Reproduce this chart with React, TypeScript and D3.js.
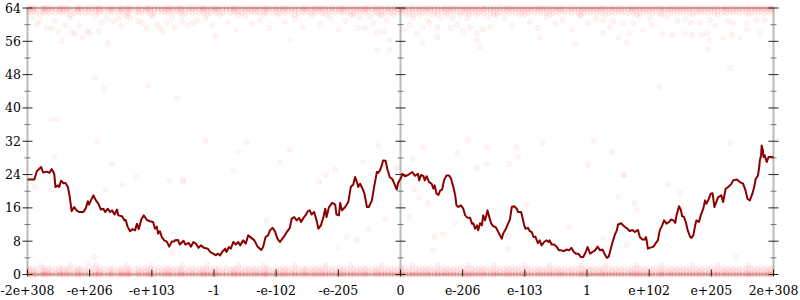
import React from "react";
import * as d3 from "d3";

const xTickPositions = [-6, -5, -4, -3, -2, -1, 0, 1, 2, 3, 4, 5, 6];
const xTickLabels = ["-2e+308", "-e+206", "-e+103", "-1", "-e-102", "-e-205", "0", "e-206", "e-103", "1", "e+102", "e+205", "2e+308"];
const yMajorTicks = [0, 8, 16, 24, 32, 40, 48, 56, 64];
const yMinorTicks = [4, 12, 20, 28, 36, 44, 52, 60];

const lineX = [
  -6.0, -5.89, -5.85, -5.78, -5.75, -5.69, -5.65, -5.61, -5.57, -5.55, -5.51, -5.49, -5.46, -5.42, -5.39, -5.35, -5.32, -5.29, -5.25, -5.21,
  -5.17, -5.1, -5.06, -5.03, -5.01, -4.98, -4.94, -4.9, -4.86, -4.82, -4.78, -4.75, -4.71, -4.67, -4.64, -4.6, -4.56, -4.54, -4.48, -4.44,
  -4.42, -4.39, -4.35, -4.31, -4.27, -4.24, -4.21, -4.17, -4.13, -4.08, -4.03, -3.98, -3.95, -3.92, -3.9, -3.87, -3.84, -3.8, -3.76, -3.72,
  -3.68, -3.64, -3.63, -3.58, -3.55, -3.49, -3.46, -3.41, -3.37, -3.33, -3.29, -3.25, -3.21, -3.16, -3.1, -3.06, -3.01, -2.97, -2.94, -2.9,
  -2.87, -2.82, -2.8, -2.76, -2.73, -2.69, -2.65, -2.61, -2.58, -2.53, -2.49, -2.45, -2.4, -2.35, -2.3, -2.24, -2.21, -2.17, -2.13, -2.1,
  -2.06, -2.02, -1.98, -1.94, -1.9, -1.86, -1.83, -1.78, -1.75, -1.71, -1.67, -1.63, -1.6, -1.56, -1.52, -1.49, -1.46, -1.43, -1.39, -1.35,
  -1.32, -1.28, -1.24, -1.21, -1.19, -1.15, -1.1, -1.05, -1.03, -0.99, -0.97, -0.94, -0.89, -0.84, -0.8, -0.76, -0.73, -0.7, -0.68, -0.65,
  -0.61, -0.58, -0.54, -0.51, -0.46, -0.42, -0.38, -0.36, -0.33, -0.3, -0.28, -0.24, -0.21, -0.17, -0.13, -0.1, -0.06, -0.04, 0.01, 0.03,
  0.07, 0.12, 0.15, 0.19, 0.23, 0.28, 0.3, 0.33, 0.37, 0.39, 0.42, 0.46, 0.5, 0.53, 0.55, 0.58, 0.61, 0.64, 0.67, 0.7,
  0.74, 0.78, 0.81, 0.85, 0.88, 0.9, 0.93, 0.97, 1.01, 1.04, 1.08, 1.12, 1.15, 1.17, 1.2, 1.23, 1.25, 1.28, 1.31, 1.33,
  1.36, 1.4, 1.42, 1.46, 1.49, 1.53, 1.56, 1.6, 1.63, 1.65, 1.69, 1.73, 1.76, 1.79, 1.83, 1.87, 1.89, 1.94, 1.96, 1.99,
  2.01, 2.05, 2.08, 2.11, 2.14, 2.17, 2.21, 2.24, 2.27, 2.31, 2.35, 2.38, 2.4, 2.43, 2.47, 2.51, 2.55, 2.59, 2.63, 2.67,
  2.71, 2.75, 2.78, 2.82, 2.86, 2.9, 2.94, 2.98, 3.01, 3.05, 3.09, 3.13, 3.17, 3.21, 3.25, 3.28, 3.32, 3.35, 3.39, 3.42,
  3.45, 3.48, 3.5, 3.55, 3.58, 3.61, 3.65, 3.69, 3.73, 3.77, 3.82, 3.85, 3.89, 3.93, 3.95, 3.98, 4.01, 4.07, 4.1, 4.14,
  4.17, 4.21, 4.24, 4.28, 4.32, 4.35, 4.39, 4.42, 4.44, 4.48, 4.51, 4.53, 4.56, 4.59, 4.62, 4.66, 4.68, 4.71, 4.74, 4.76,
  4.8, 4.83, 4.87, 4.9, 4.92, 4.95, 4.99, 5.02, 5.05, 5.09, 5.11, 5.16, 5.19, 5.23, 5.27, 5.32, 5.35, 5.41, 5.46, 5.51,
  5.55, 5.58, 5.62, 5.66, 5.69, 5.71, 5.75, 5.77, 5.78, 5.8, 5.81, 5.83, 5.84, 5.86, 5.89, 5.92, 5.97, 6.0,
];
const lineY = [
  22.8, 22.8, 24.8, 25.8, 24.5, 24.7, 24.4, 25.3, 24.2, 21, 21.4, 21, 22.5, 21.9, 22, 21, 18.6, 15.2, 16.2, 15.4,
  15, 15, 16, 17.6, 16.8, 17.8, 19, 17.8, 17, 15.6, 15.8, 15, 15.8, 15, 15.4, 14.4, 15.6, 14.2, 14, 13,
  13.1, 11.5, 10.4, 10.9, 10.6, 12.2, 10.9, 13.2, 14.2, 13.1, 12.8, 12.6, 11, 11.5, 9.8, 10.4, 9, 8.2, 7.9, 6.7,
  7.9, 7.9, 8.2, 8.3, 7.2, 8.1, 7.2, 7.6, 6.7, 7.8, 7.4, 6.4, 7, 6.4, 6.2, 5.4, 5, 4.6, 5, 4.6,
  5.4, 6.2, 5.4, 6.6, 6.2, 7.8, 7.2, 7.8, 7, 8.2, 7.4, 9.4, 8.8, 8.2, 6.7, 5.9, 6.6, 9, 9.4, 10.6,
  11.2, 10.4, 8.6, 7.8, 8.6, 9.4, 10.2, 11.2, 13.4, 13.8, 13, 13.6, 12.6, 13.6, 14.4, 15.2, 15.4, 14.4, 15, 13,
  11, 11.8, 13.8, 15.8, 13.8, 16.2, 17.2, 16.8, 14.4, 14.2, 17.2, 15.4, 16.2, 17.4, 21, 21.6, 23.4, 22.2, 21, 21.8,
  20.6, 19.4, 16.2, 16.2, 17.8, 21.4, 24.6, 24.4, 25, 26.2, 27.4, 27.3, 25.2, 23.3, 22.9, 21.8, 20.4, 21.9, 23.3, 24.2,
  23.6, 23.9, 24.2, 24.6, 23.7, 24.2, 22.6, 23.9, 23.6, 22.6, 23.6, 22.2, 21.8, 20.6, 21.4, 19.4, 19.1, 20.2, 20.4, 22.6,
  23.8, 23.8, 23.1, 21, 19, 16.6, 16.2, 16.6, 15.8, 14.2, 13.6, 13.6, 12.2, 12.3, 11, 11.8, 10.6, 12.3, 11.8, 14.2,
  13, 15.4, 14.2, 12.2, 11.6, 11.4, 10.6, 9.4, 8.6, 9.8, 10.8, 12.2, 13.2, 16.2, 16.4, 15.8, 15, 15, 13.8, 11.8,
  11, 11.2, 10.4, 10.2, 9, 9.1, 7.5, 8.2, 7, 7.8, 8.2, 7.8, 8.2, 7.2, 7.2, 6.7, 5.8, 5.8, 5.6, 6,
  5.8, 6.4, 5.6, 5, 5, 4.2, 4.2, 5.4, 6.6, 5, 5.4, 5.8, 6.7, 5.8, 6, 5, 4, 4.3, 6.6, 8.2,
  9.6, 10.6, 12, 12.3, 11.8, 11.4, 11, 10.4, 10.7, 10.2, 10.7, 9, 8.4, 8.4, 9, 6.2, 6.4, 6.7, 7.4, 8.2,
  10.6, 11.8, 13, 12.2, 12.6, 13.2, 13, 12.4, 14.2, 16.4, 15.5, 14, 13.8, 12.6, 10.6, 9, 8.8, 9.4, 11.8, 13,
  12.6, 14.2, 15.8, 17.8, 17, 17.8, 19.4, 19.5, 16.2, 17.8, 18.6, 19, 17.4, 20.6, 21, 21.7, 22.6, 22.8, 22.2, 21.8,
  20.2, 18.2, 17.8, 19.4, 21, 22.8, 23.8, 25.8, 27.4, 28.6, 31, 29.8, 28.2, 28.6, 27, 28.2, 28.2, 28.1,
];

// dense rows of samples along the extremes (x positions)
const rowA = [
  -5.98, -5.9, -5.77, -5.7, -5.61, -5.49, -5.42, -5.33, -5.2, -5.13, -5.02, -4.91, -4.83, -4.7, -4.62, -4.5, -4.41, -4.33, -4.21, -4.1,
  -4.02, -3.9, -3.79, -3.71, -3.6, -3.52, -3.4, -3.3, -3.19, -3.11, -3.0, -2.92, -2.8, -2.69, -2.61, -2.5, -2.4, -2.31, -2.2, -2.12,
  -2.0, -1.9, -1.81, -1.7, -1.58, -1.5, -1.39, -1.3, -1.21, -1.1, -0.99, -0.91, -0.8, -0.7, -0.6, -0.52, -0.4, -0.31, -0.2, -0.1,
  0.0, 0.08, 0.19, 0.3, 0.4, 0.49, 0.6, 0.71, 0.8, 0.9, 1.01, 1.1, 1.2, 1.3, 1.39, 1.5, 1.6, 1.71, 1.8, 1.9,
  2.0, 2.1, 2.21, 2.3, 2.4, 2.5, 2.59, 2.7, 2.8, 2.91, 3.0, 3.1, 3.2, 3.29, 3.4, 3.5, 3.6, 3.71, 3.8, 3.9,
  4.0, 4.1, 4.2, 4.31, 4.4, 4.5, 4.6, 4.7, 4.8, 4.9, 5.0, 5.1, 5.21, 5.3, 5.4, 5.5, 5.6, 5.7, 5.8, 5.9, 5.98,
];
const rowB = [
  -5.95, -5.86, -5.74, -5.66, -5.55, -5.46, -5.37, -5.25, -5.17, -5.07, -4.97, -4.86, -4.77, -4.66, -4.55, -4.47, -4.37, -4.25, -4.16, -4.06,
  -3.96, -3.84, -3.75, -3.66, -3.55, -3.46, -3.35, -3.24, -3.16, -3.05, -2.96, -2.86, -2.74, -2.66, -2.55, -2.45, -2.35, -2.26, -2.16, -2.05,
  -1.95, -1.86, -1.75, -1.64, -1.54, -1.44, -1.35, -1.26, -1.15, -1.05, -0.95, -0.86, -0.75, -0.65, -0.56, -0.45, -0.36, -0.25, -0.15, -0.05,
  0.04, 0.14, 0.25, 0.35, 0.44, 0.55, 0.66, 0.75, 0.85, 0.96, 1.05, 1.15, 1.25, 1.34, 1.45, 1.55, 1.66, 1.75, 1.85, 1.95,
  2.05, 2.16, 2.25, 2.35, 2.45, 2.55, 2.64, 2.75, 2.86, 2.95, 3.05, 3.15, 3.24, 3.35, 3.45, 3.55, 3.66, 3.75, 3.85, 3.95,
  4.05, 4.16, 4.25, 4.35, 4.45, 4.55, 4.65, 4.76, 4.85, 4.95, 5.05, 5.16, 5.25, 5.35, 5.45, 5.56, 5.65, 5.75, 5.85, 5.94,
];
const rowC = [-5.8, -5.3, -4.9, -4.4, -4.0, -3.5, -3.1, -2.6, -2.2, -1.7, -1.2, -0.8, -0.3, 0.2, 0.6, 1.1, 1.5, 2.0, 2.4, 2.9, 3.3, 3.8, 4.2, 4.7, 5.1, 5.6];

// scattered samples: [x, bits]
const scatterPoints: [number, number][] = [
  [-5.93, 61.6], [-5.85, 60.2], [-5.8, 60.7], [-5.69, 59.2], [-5.61, 59.0], [-5.56, 60.9], [-5.51, 58.3], [-5.45, 56.1], [-5.4, 59.9], [-5.32, 61.6],
  [-5.28, 58.0], [-5.23, 58.0], [-5.16, 59.7], [-5.11, 56.8], [-5.04, 58.5], [-5.01, 58.0], [-4.85, 58.3], [-4.8, 60.4], [-4.72, 61.6], [-4.7, 55.6],
  [-4.62, 60.9], [-4.54, 61.4], [-4.5, 59.7], [-4.4, 61.9], [-4.35, 61.6], [-4.22, 60.9], [-4.16, 60.4], [-4.08, 59.2], [-3.98, 61.9], [-3.92, 60.2],
  [-3.87, 59.2], [-3.82, 58.3], [-3.76, 60.4], [-3.68, 61.6], [-3.63, 59.4], [-3.51, 60.9], [-3.43, 59.9], [-3.34, 60.4], [-3.27, 61.1],
  [-3.14, 61.6], [-3.03, 59.9], [-2.9, 62.3], [-2.77, 60.7], [-2.65, 58.7], [-2.5, 61.9], [-2.39, 60.2], [-2.26, 61.1], [-2.1, 59.2], [-1.97, 62.1],
  [-1.86, 60.7], [-1.7, 61.4], [-1.57, 59.4], [-1.43, 62.3], [-1.29, 60.2], [-1.13, 61.6], [-1.0, 58.7], [-0.89, 60.9], [-2.98, 57.3], [-1.78, 56.3],
  [-0.76, 62.3], [-0.65, 61.6], [-0.49, 61.9], [-0.33, 62.3], [-0.22, 61.1], [-0.12, 62.3], [-0.44, 60.4], [-0.38, 58.0], [-0.28, 58.3], [-0.68, 59.2],
  [-0.57, 59.2], [-0.17, 56.3], [-0.38, 53.9], [-0.18, 53.9], [0.1, 62.3], [0.2, 61.6], [0.31, 62.3], [0.43, 61.1], [0.52, 62.3], [0.64, 61.6],
  [0.75, 62.3], [0.84, 61.6], [0.96, 62.3], [1.07, 61.6], [1.23, 62.3], [1.39, 61.9], [1.55, 62.3], [0.15, 59.9], [0.36, 59.4], [0.47, 60.4],
  [0.59, 59.4], [0.8, 59.2], [0.91, 59.9], [1.01, 58.3], [1.12, 59.4], [1.23, 58.0], [1.33, 58.7], [1.44, 59.4], [0.35, 55.6], [0.59, 57.0],
  [1.23, 56.3], [1.28, 54.6], [0.04, 58.7], [0.27, 58.0],
  [1.68, 61.6], [1.79, 59.9], [1.92, 62.3], [2.08, 60.7], [2.21, 59.2], [2.34, 61.9], [2.49, 60.2], [2.61, 61.1], [2.76, 58.7], [2.89, 62.1],
  [3.02, 60.4], [3.14, 61.4], [2.24, 56.8], [2.81, 55.4],
  [3.26, 61.1], [3.42, 60.9], [3.58, 60.4], [3.74, 60.4], [3.85, 61.9], [4.01, 61.6], [4.05, 59.9], [4.29, 61.6], [4.45, 60.9], [4.59, 61.4],
  [4.67, 60.4], [4.82, 60.4], [4.98, 61.1], [5.06, 59.7], [5.27, 60.9], [5.35, 60.4], [5.57, 60.4], [5.73, 61.1], [5.86, 61.1], [3.37, 59.4],
  [3.68, 58.0], [3.9, 58.7], [4.22, 57.8], [4.37, 57.5], [4.58, 57.8], [4.69, 57.5], [4.85, 57.5], [4.93, 58.0], [4.98, 56.3], [5.19, 56.8],
  [5.33, 57.5], [5.46, 56.8], [5.57, 58.7], [5.78, 58.0], [3.26, 58.0], [4.95, 54.2], [3.5, 56.8], [3.64, 55.8],
  [-4.91, 47.2], [-4.77, 44.6], [-4.06, 45.3], [-3.6, 42.4], [5.3, 49.6], [4.16, 45.0],
  [-5.61, 37.3], [-5.52, 37.3], [-4.87, 31.8], [-5.57, 28.2], [-4.64, 26.5], [-4.48, 21.7], [-4.25, 23.4], [-5.88, 21.0], [-5.61, 20.3], [-4.74, 20.3],
  [-3.72, 22.5], [-3.5, 22.7], [-4.93, 4.2], [-3.68, 5.2], [-5.04, 2.8],
  [-3.14, 32.1], [-2.48, 31.8], [-2.61, 29.4], [-1.78, 29.9], [-1.94, 27.0], [-2.69, 24.9], [-3.5, 22.3], [-1.31, 22.3], [-2.15, 12.9],
  [-0.36, 30.9], [0.36, 30.6], [1.09, 32.3], [0.92, 29.2], [-0.6, 27.0], [-1.05, 25.3], [-1.2, 23.9], [-0.06, 25.6], [0.2, 27.7], [0.22, 20.3],
  [-0.25, 13.3], [0.15, 13.8], [-0.52, 10.9], [-0.86, 9.0], [-0.7, 8.3], [-1.01, 6.4], [0.55, 9.0], [0.68, 9.7], [0.52, 5.9], [0.88, 12.4],
  [0.3, 18.4], [0.44, 17.2],
  [1.39, 30.6], [1.87, 30.6], [2.28, 31.6], [3.11, 32.1], [3.4, 29.4], [1.23, 25.6], [1.39, 26.5], [1.76, 26.5], [1.89, 28.2], [3.02, 26.3],
  [2.03, 16.7], [1.73, 9.2], [2.71, 11.4], [3.26, 8.8], [3.5, 18.6], [1.73, 6.1], [3.58, 23.9],
  [5.3, 31.6], [3.61, 23.9], [4.3, 21.7], [4.5, 19.6], [3.76, 17.2], [3.8, 15.5], [3.64, 7.1], [5.4, 4.2],
];

const rows: { v: number; xs: number[] }[] = [
  { v: 0, xs: rowA },
  { v: 0, xs: rowB },
  { v: 0.05, xs: rowA },
  { v: 0.05, xs: rowB },
  { v: 0.1, xs: rowC },
  { v: 0.4, xs: rowB },
  { v: 0.8, xs: rowA },
  { v: 1.2, xs: rowB },
  { v: 1.6, xs: rowA },
  { v: 2.2, xs: rowC },
  { v: 64, xs: rowA },
  { v: 64, xs: rowB },
  { v: 63.9, xs: rowA },
  { v: 63.6, xs: rowB },
  { v: 63.2, xs: rowA },
  { v: 62.8, xs: rowB },
  { v: 62.4, xs: rowC },
];

export default function App() {
  const W = 800, H = 300;
  const x = d3.scaleLinear().domain([-6, 6]).range([27.5, 773.5]);
  const y = d3.scaleLinear().domain([0, 64]).range([274.5, 8]);

  const dots: [number, number][] = [];
  rows.forEach((r) => r.xs.forEach((xv) => dots.push([xv, r.v])));
  scatterPoints.forEach((p) => dots.push(p));

  const lineData = lineX.map((xv, i) => [xv, lineY[i]] as [number, number]);
  const path = d3.line<[number, number]>().x((d) => x(d[0])).y((d) => y(d[1]))(lineData) || "";

  const axisColor = "#bcbcbc";
  const vAxes = [-6, 0, 6];
  const font = "DejaVu Serif, serif";

  return (
    <svg width={W} height={H} style={{ position: "absolute", left: 0, top: 0, background: "#fff" }}>
      {/* frame lines */}
      <line x1={x(-6)} x2={x(6)} y1={y(64)} y2={y(64)} stroke={axisColor} strokeWidth={2} />
      <line x1={x(-6)} x2={x(6)} y1={y(0)} y2={y(0)} stroke={axisColor} strokeWidth={2} />
      {vAxes.map((v) => (
        <line key={"va" + v} x1={x(v)} x2={x(v)} y1={y(64)} y2={y(0)} stroke={axisColor} strokeWidth={2} />
      ))}
      {/* samples */}
      <g fill="red" fillOpacity={0.04} stroke="red" strokeOpacity={0.055} strokeWidth={1}>
        {dots.map((d, i) => (
          <circle key={i} cx={x(d[0])} cy={y(d[1])} r={2.5} />
        ))}
      </g>
      {/* y ticks */}
      {vAxes.map((v) => (
        <g key={"t" + v}>
          {yMajorTicks.map((t) => (
            <line key={"M" + t} x1={x(v) - 5} x2={x(v) + 5} y1={y(t)} y2={y(t)} stroke="#222" strokeWidth={1} />
          ))}
          {yMinorTicks.map((t) => (
            <line key={"m" + t} x1={x(v) - 3} x2={x(v) + 3} y1={y(t)} y2={y(t)} stroke="#777" strokeWidth={1} />
          ))}
        </g>
      ))}
      {/* x ticks */}
      {xTickPositions.map((t) => (
        <line key={"xt" + t} x1={x(t)} x2={x(t)} y1={y(0) - 5} y2={y(0) + 2} stroke="#222" strokeWidth={1} />
      ))}
      {/* labels */}
      {yMajorTicks.map((t) => (
        <text key={"yl" + t} x={21} y={y(t)} dy="0.36em" textAnchor="end" fontFamily={font} fontSize={12.5} fill="#000">
          {t}
        </text>
      ))}
      {xTickPositions.map((t, i) => (
        <text key={"xl" + t} x={x(t)} y={294.5} textAnchor="middle" fontFamily={font} fontSize={12.5} fill="#000">
          {xTickLabels[i]}
        </text>
      ))}
      {/* series */}
      <path d={path} fill="none" stroke="#8b0000" strokeWidth={2} strokeLinejoin="round" />
    </svg>
  );
}
